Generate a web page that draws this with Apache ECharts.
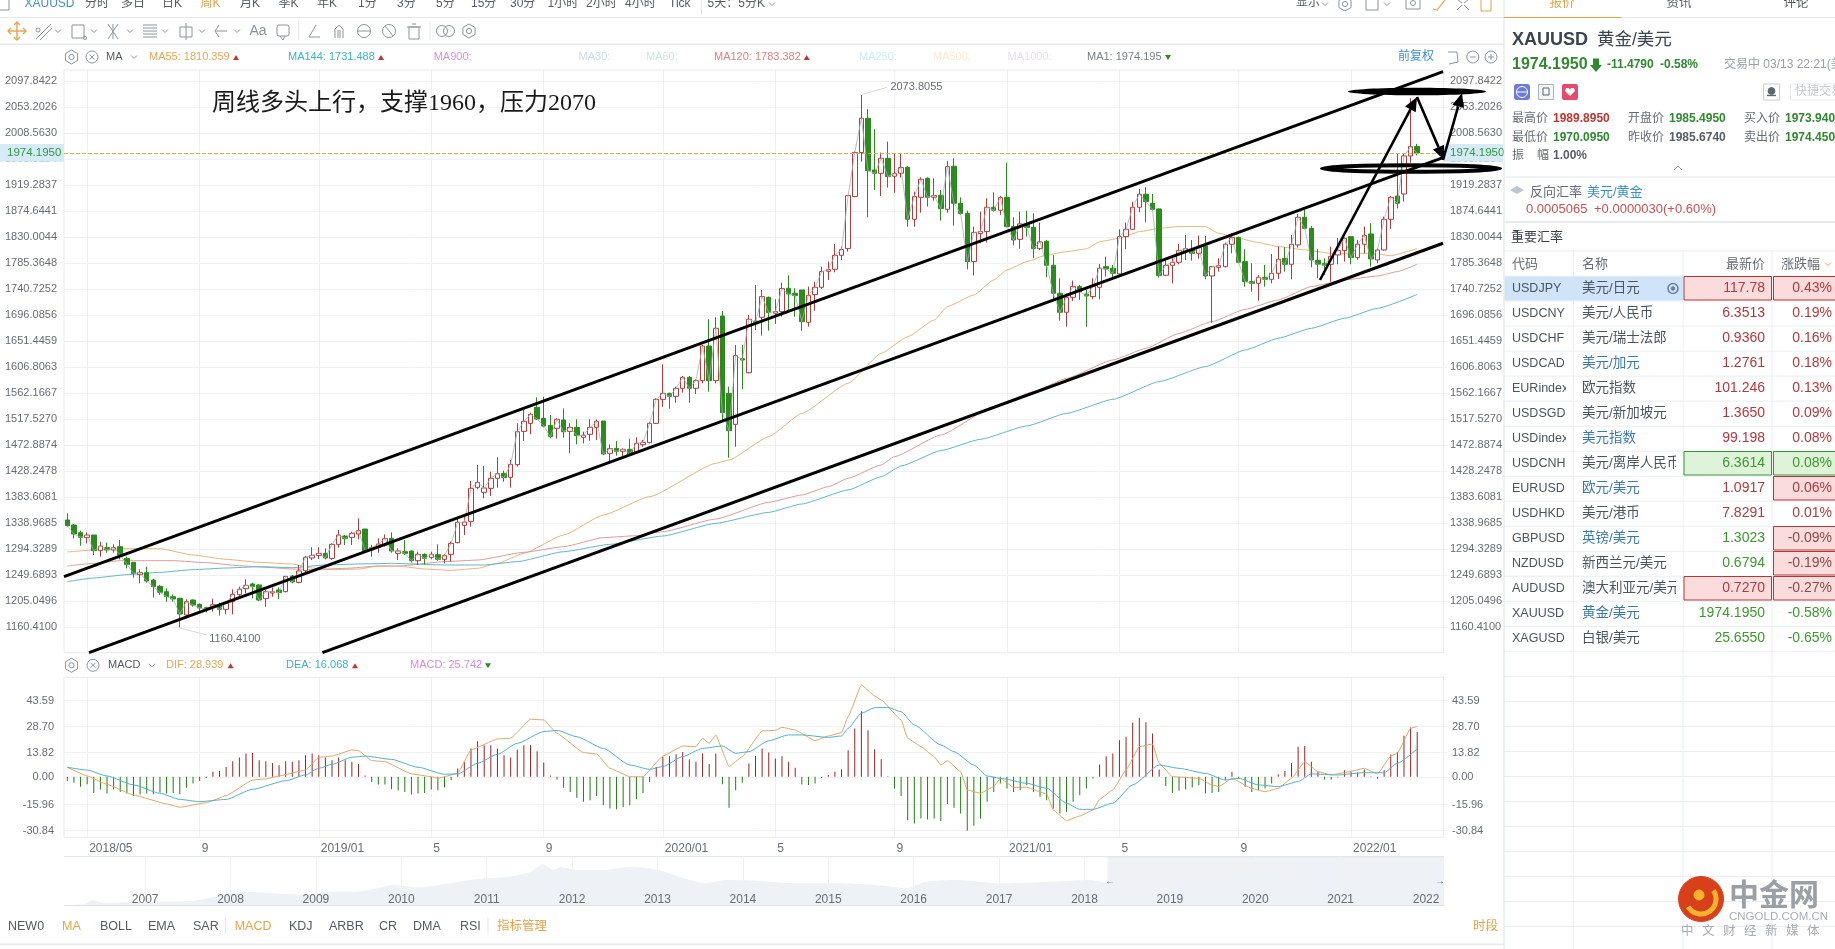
<!DOCTYPE html>
<html>
<head>
<meta charset="utf-8">
<title>XAUUSD 周K</title>
<script src="https://cdn.jsdelivr.net/npm/echarts@6/dist/echarts.min.js"></script>
<style>
html,body{margin:0;padding:0;background:#fff;overflow:hidden}
#chart{width:1835px;height:949px}
</style>
</head>
<body>
<div id="chart"></div>
<script>
// Weekly XAUUSD candles, newest on the right
const opens = [1344.5,1335.9,1322.7,1314.2,1318.7,1291.9,1297.0,1293.0,1298.7,1278.7,
1271.8,1250.7,1254.1,1241.5,1230.7,1221.5,1212.9,1210.1,1181.5,1207.2,
1199.8,1194.0,1194.6,1196.9,1191.2,1204.3,1216.4,1226.6,1234.7,1233.0,
1209.5,1219.2,1224.4,1221.5,1248.4,1237.5,1257.5,1279.3,1283.8,1287.3,
1278.7,1302.7,1317.0,1314.7,1320.5,1329.0,1293.0,1297.6,1301.6,1313.0,
1287.3,1290.1,1291.3,1274.7,1285.6,1280.4,1285.0,1277.0,1285.6,1305.6,
1335.3,1342.2,1400.5,1391.9,1398.8,1416.0,1424.5,1417.7,1439.4,1496.6,
1510.3,1537.8,1519.0,1506.9,1501.8,1516.1,1496.6,1503.5,1486.3,1491.5,
1503.5,1514.3,1458.9,1467.4,1462.3,1465.7,1461.1,1473.7,1477.2,1510.3,
1551.5,1561.8,1556.7,1570.4,1589.3,1570.4,1583.6,1643.0,1583.6,1694.5,
1561.8,1508.6,1621.3,1597.2,1686.0,1692.3,1726.6,1699.2,1702.0,1742.1,
1733.5,1739.2,1683.7,1731.2,1743.8,1771.2,1774.7,1798.7,1810.1,1899.4,
1974.9,2033.8,1945.1,1939.4,1965.1,1934.3,1939.4,1949.7,1860.5,1898.2,
1930.8,1898.2,1901.6,1877.6,1951.4,1887.9,1870.8,1787.8,1835.9,1839.3,
1881.1,1875.9,1898.2,1847.9,1826.1,1852.5,1846.7,1810.1,1822.7,1781.5,
1733.5,1700.9,1726.6,1744.9,1732.3,1727.8,1743.8,1779.2,1776.4,1766.7,
1830.7,1843.3,1881.1,1903.4,1887.9,1878.2,1764.4,1781.5,1786.7,1805.6,
1808.4,1802.1,1814.7,1763.2,1778.1,1779.2,1817.6,1829.0,1787.8,1753.5,
1750.6,1760.9,1757.5,1767.8,1793.5,1783.2,1816.4,1863.9,1845.0,1790.1,
1784.9,1783.2,1799.3,1806.7,1830.7,1794.7,1817.6,1835.3,1790.7,1807.8,
1860.5,1900.5,1903.9,1969.1,1985.495];
const closes = [1334.8,1320.5,1314.7,1318.7,1291.9,1299.9,1293.0,1297.0,1284.4,1268.4,
1253.0,1254.1,1239.8,1230.1,1220.4,1212.9,1208.9,1183.2,1204.3,1198.6,
1193.5,1191.8,1199.2,1191.2,1201.5,1216.9,1225.5,1232.4,1230.1,1207.2,
1221.5,1221.5,1219.8,1247.8,1238.1,1257.0,1280.4,1283.8,1287.3,1279.3,
1302.7,1318.7,1312.4,1321.6,1326.2,1291.9,1297.0,1303.3,1312.4,1291.3,
1291.3,1287.3,1274.7,1285.6,1278.7,1285.6,1277.0,1283.3,1304.4,1340.5,
1341.0,1398.8,1409.1,1399.4,1416.0,1424.0,1417.1,1440.0,1496.0,1513.8,
1525.8,1517.8,1505.8,1487.5,1517.2,1496.0,1503.5,1489.2,1489.8,1503.5,
1513.8,1457.7,1466.9,1462.3,1465.7,1457.7,1476.0,1477.7,1510.3,1551.5,
1561.8,1556.7,1570.4,1589.3,1570.4,1583.6,1643.0,1583.6,1673.4,1528.6,
1497.8,1626.5,1619.0,1688.9,1683.7,1727.8,1700.3,1702.0,1741.5,1732.3,
1729.5,1684.9,1730.0,1743.8,1770.7,1774.1,1798.7,1808.4,1901.1,1974.9,
2033.8,1944.0,1939.4,1965.1,1933.7,1938.8,1949.1,1860.5,1899.4,1929.1,
1898.2,1901.1,1878.8,1950.8,1887.9,1870.2,1787.8,1837.6,1839.3,1881.1,
1875.9,1897.6,1847.9,1825.0,1852.5,1846.2,1810.1,1821.6,1781.5,1733.5,
1700.9,1726.6,1744.9,1736.3,1728.9,1744.9,1776.4,1775.2,1767.8,1830.7,
1843.3,1881.1,1903.4,1890.8,1877.6,1763.8,1781.5,1786.7,1806.7,1810.1,
1802.1,1811.8,1763.2,1779.2,1780.9,1817.6,1829.0,1786.7,1753.5,1750.6,
1760.9,1757.5,1767.8,1791.8,1783.2,1817.6,1863.9,1845.0,1790.7,1783.2,
1781.5,1796.4,1806.7,1827.9,1794.7,1817.6,1833.0,1792.4,1807.8,1860.5,
1898.2,1887.9,1969.1,1985.2,1974.195];
const highs = [1355.9,1337.6,1326.2,1323.3,1318.7,1307.3,1305.6,1302.7,1310.2,1281.6,
1271.8,1259.8,1264.4,1243.8,1233.0,1227.2,1216.9,1211.2,1208.3,1208.3,
1201.5,1195.8,1209.5,1202.6,1204.3,1225.5,1230.1,1242.7,1237.0,1234.1,
1224.4,1228.9,1228.9,1248.4,1250.1,1267.3,1282.7,1297.6,1297.6,1295.9,
1304.4,1327.3,1318.7,1324.5,1347.3,1329.0,1301.6,1313.0,1319.9,1323.3,
1295.9,1310.1,1291.8,1290.1,1287.3,1290.1,1302.7,1286.1,1307.3,1347.3,
1353.0,1411.4,1438.8,1437.1,1427.4,1452.0,1429.1,1447.4,1510.3,1533.2,
1528.6,1555.0,1556.1,1524.6,1518.9,1536.1,1510.3,1517.2,1496.0,1517.2,
1517.2,1514.3,1474.3,1480.0,1467.4,1484.0,1486.3,1481.7,1513.2,1553.2,
1611.6,1563.0,1573.3,1591.6,1591.6,1585.8,1644.8,1688.8,1692.2,1703.1,
1573.3,1644.8,1644.8,1696.3,1747.8,1739.2,1727.8,1723.2,1751.8,1764.4,
1742.1,1739.2,1744.9,1753.5,1779.2,1787.8,1818.1,1813.6,1902.2,1976.6,
2073.8055,2049.2,2014.9,1974.9,1993.7,1973.7,1973.7,1952.0,1907.9,1932.5,
1932.5,1930.8,1910.8,1960.6,1965.1,1898.2,1875.3,1847.9,1873.6,1896.5,
1906.8,1900.5,1957.7,1863.9,1873.6,1875.3,1870.8,1854.7,1825.0,1799.3,
1759.2,1733.5,1755.2,1747.8,1739.2,1759.2,1783.8,1796.4,1782.1,1843.3,
1854.7,1890.8,1912.5,1915.4,1903.9,1879.3,1790.7,1793.5,1818.1,1833.6,
1825.0,1832.4,1831.9,1780.4,1793.5,1820.4,1836.4,1830.7,1809.0,1785.0,
1764.9,1782.1,1801.0,1813.6,1812.4,1833.6,1869.6,1876.5,1849.0,1809.0,
1793.5,1813.6,1827.9,1829.6,1830.7,1825.0,1847.9,1853.6,1810.7,1865.0,
1900.5,1973.7,1973.7,2068.1,1989.895];
const lows = [1333.0,1313.0,1300.4,1304.4,1284.4,1281.6,1288.4,1288.4,1277.0,1261.5,
1245.5,1235.8,1237.0,1211.2,1215.8,1204.3,1204.3,1160.41,1178.6,1195.8,
1188.9,1186.0,1187.2,1180.3,1182.6,1182.6,1212.9,1218.6,1210.1,1205.5,
1195.8,1212.9,1208.9,1220.4,1235.8,1235.8,1254.1,1275.8,1277.6,1277.0,
1275.8,1297.0,1301.6,1301.6,1311.3,1288.4,1281.6,1288.4,1298.7,1288.4,
1275.8,1284.4,1271.2,1267.2,1268.4,1277.0,1274.7,1270.1,1273.0,1304.4,
1318.7,1333.0,1397.1,1381.6,1385.6,1400.0,1410.2,1400.0,1436.0,1480.0,
1491.5,1516.1,1503.5,1484.6,1484.0,1485.7,1458.9,1474.3,1476.0,1480.6,
1481.7,1456.0,1444.6,1454.9,1453.1,1454.9,1457.7,1470.3,1476.0,1509.2,
1538.9,1535.5,1545.8,1563.0,1545.8,1560.7,1579.0,1564.7,1579.0,1513.2,
1451.4,1470.3,1568.7,1596.0,1670.6,1660.8,1669.4,1680.9,1693.4,1704.9,
1693.4,1669.4,1676.3,1703.7,1740.9,1756.4,1769.5,1790.7,1805.0,1898.2,
1959.4,1863.9,1910.8,1900.5,1914.8,1906.2,1932.0,1847.9,1847.9,1871.9,
1882.2,1892.5,1858.2,1871.9,1849.6,1867.9,1774.7,1763.8,1819.3,1820.4,
1873.6,1867.9,1846.7,1815.8,1810.1,1830.7,1793.5,1807.8,1761.0,1722.0,
1686.6,1676.3,1720.3,1722.0,1676.3,1723.2,1723.2,1762.1,1759.2,1764.9,
1809.0,1842.2,1872.5,1855.3,1875.3,1760.4,1763.2,1750.6,1783.2,1790.7,
1789.5,1793.0,1757.5,1683.1,1770.7,1778.1,1802.1,1786.1,1744.9,1736.3,
1720.9,1744.9,1750.6,1758.1,1770.7,1757.5,1811.8,1843.3,1778.1,1759.2,
1764.9,1753.5,1783.2,1787.8,1783.2,1790.7,1802.1,1779.2,1785.0,1806.7,
1843.9,1879.3,1890.8,1957.7,1970.095];

// Moving averages, read at the week numbers listed beside them
const ma55Weeks = [0,4,9,14,19,24,29,34,37,40,44,47,50,54,58,62,65,69,75,81,88,98,100,106,111,118,123,127,131,133,137,140,142,145,148,151,154,156,159,162,165,168,172,174,177,180,183,187,191,194,197,200,204];
const ma55Values = [1289.6,1293,1295.3,1295.3,1284.4,1277,1271.8,1269,1262,1259.3,1260.4,1265.5,1265.5,1260.4,1258.1,1261.5,1270,1287.3,1318.7,1353,1384.5,1441.7,1447.4,1487.5,1527.5,1579,1630.5,1659,1687.7,1710.6,1730.6,1756.4,1773.5,1787.8,1799.3,1805,1809.6,1822,1827.9,1839.3,1845,1847.9,1847.9,1836.4,1827.9,1820.4,1813.6,1808,1802,1802,1802,1798.1,1810.359];
const ma120Weeks = [0,4,8,12,16,21,26,30,34,37,42,47,50,57,62,69,75,81,86,90,98,106,111,115,118,123,125,132,140,146,151,158,163,168,173,178,183,188,193,198,201,204];
const ma120Values = [1265.5,1270,1274.7,1274.7,1274.7,1271.3,1266.1,1263.3,1260.4,1259.3,1261.5,1265.5,1265.5,1273,1275.8,1289,1298.7,1314.2,1317.6,1324.5,1346.2,1374.8,1387.4,1401.7,1416,1438.9,1453.2,1490.3,1539,1564.7,1587.6,1619,1639,1664.8,1684.9,1706,1722,1745,1756.4,1763.2,1770.7,1783.382];
const ma144Weeks = [0,4,9,14,19,24,29,34,39,44,49,57,63,68,75,82,90,98,106,111,118,123,126,132,138,145,151,158,165,172,178,183,188,193,198,204];
const ma144Values = [1238.7,1245,1250.7,1254.7,1259.3,1262.1,1264.4,1262.7,1267.3,1269,1270.1,1267.3,1267.3,1273,1290.1,1302.7,1317,1338.8,1357.6,1372,1396,1418.8,1437.1,1463.5,1483,1505.8,1527.5,1551.5,1581.9,1607.6,1636.2,1656.3,1673.4,1690.6,1707.7,1731.488];

// MACD histogram, one bar per week
const macdBars = [-2.3,-3.4,-5.7,-4.2,-9.2,-7.3,-9.5,-7.3,-8.6,-9.5,
-10.9,-10.1,-9.5,-9.9,-9.0,-9.5,-9.2,-9.9,-6.3,-3.8,
-2.3,-0.6,2.9,3.4,5.7,9.0,11.1,13.4,13.7,9.5,
9.0,8.0,6.7,9.0,8.6,9.5,12.4,13.4,12.4,11.1,
9.5,11.1,9.5,8.6,7.3,0.8,-2.9,-4.4,-4.4,-7.1,
-7.6,-8.6,-10.1,-9.5,-9.2,-7.3,-7.6,-6.1,-1.9,4.8,
8.6,16.2,20.4,18.1,18.1,16.2,12.4,11.1,15.6,18.1,
18.1,14.7,8.2,0.8,-1.5,-6.3,-8.6,-12.0,-14.3,-13.4,
-10.9,-16.2,-18.1,-18.5,-17.2,-16.2,-12.8,-9.2,-2.9,5.7,
11.4,11.8,13.0,14.3,9.9,8.6,13.4,7.3,13.4,-4.2,
-17.7,-7.6,-3.4,7.6,12.0,16.2,13.9,10.5,11.8,8.6,
5.2,-4.4,-4.6,-3.8,-0.6,1.0,2.9,4.2,15.3,27.7,
37.6,26.7,15.8,10.1,0.4,-6.7,-10.9,-24.8,-26.7,-23.9,
-24.4,-23.9,-25.2,-15.6,-17.7,-21.0,-30.9,-28.0,-23.9,-14.3,
-8.6,-3.8,-6.7,-8.6,-7.6,-4.8,-8.6,-11.4,-13.4,-18.1,
-21.0,-20.0,-14.3,-10.5,-6.7,-1.0,7.1,11.8,13.4,21.0,
22.9,31.1,33.8,31.3,24.8,4.2,-5.3,-9.2,-8.0,-7.3,
-6.1,-4.8,-9.5,-9.2,-8.6,-1.9,2.9,-1.0,-5.7,-8.6,
-7.6,-6.7,-3.8,1.5,3.4,8.0,17.2,17.6,8.6,2.9,
-1.5,-1.5,-0.4,3.8,2.9,2.5,4.2,0.4,-1.1,3.8,
12.8,14.3,23.5,28.2,25.742];

const difWeeks = [0,3,6,10,15,17,21,24,28,30,32,36,38,40,43,44,46,48,52,55,56,59,61,65,67,70,72,74,78,80,82,85,87,90,93,95,96,97,98,100,102,105,107,108,110,113,115,117,118,120,122,123,126,127,129,131,132,133,135,136,138,140,141,143,145,148,149,151,153,155,156,158,160,162,164,165,167,171,173,174,176,179,181,183,185,187,189,191,193,196,198,200,201,203,204];
const difValues = [5.5,0.5,-4.3,-10.4,-15.5,-17.4,-14.8,-10.8,-1.8,-1.2,0.5,3.9,11.2,11.9,15.4,15.0,9.3,8.7,1.7,0.1,-0.8,2.0,15.4,21.7,22.1,33.0,32.6,24.9,13.9,13.1,4.9,0.1,0.1,11.9,17.6,17.3,22.1,19.2,24.0,5.9,11.6,26.3,26.6,28.4,26.8,20.7,23.4,25.3,34.5,52.6,46.3,44.0,32.6,22.1,17.3,11.6,6.8,9.3,3.0,-7.5,-9.4,-5.6,-0.8,-6.0,-6.0,-9.8,-19.0,-25.1,-22.4,-19.0,-12.8,-7.5,3.9,17.3,18.8,7.8,0.1,-0.8,-4.6,-5.6,-0.8,-6.6,-8.5,-6.6,-0.8,8.7,3.0,1.1,2.4,4.9,1.7,11.9,13.5,27.8,28.939];
const deaWeeks = [0,3,6,10,14,17,20,24,28,33,36,38,40,43,45,49,53,57,59,62,65,68,72,74,77,81,85,88,90,93,96,99,101,103,106,109,111,115,117,118,120,122,124,126,128,132,134,137,139,141,145,148,151,153,155,158,161,165,168,172,175,177,180,183,186,188,192,196,199,201,204];
const deaValues = [5.5,3.9,0.5,-4.6,-9.4,-12.9,-14.2,-12.9,-7.1,-2.2,1.1,4.9,7.2,11.2,11.9,10.0,5.5,1.5,1.7,7.8,12.9,19.2,25.9,26.6,23.0,16.3,6.8,4.3,5.9,11.6,16.3,17.7,13.5,14.4,20.7,24.0,24.0,22.6,23.4,27.8,36.4,39.6,39.8,37.3,29.7,18.3,14.4,6.8,0.5,-0.8,-3.7,-6.5,-15.1,-18.6,-18.6,-15.1,-4.6,6.8,4.9,2.0,-1.8,-0.8,-4.6,-5.6,-2.7,1.7,1.1,2.4,2.4,7.8,16.068];

// Long-range overview strip behind the period selector
const overviewYears = [2006.07,2006.29,2006.38,2006.5,2007.09,2007.57,2007.81,2008.17,2008.53,2008.89,2009.13,2009.48,2009.72,2009.9,2010.2,2010.68,2010.98,2011.27,2011.52,2011.66,2011.78,2011.87,2012.05,2012.35,2012.71,2013.01,2013.31,2013.55,2013.79,2014.14,2014.67,2015.13,2015.67,2015.91,2016.14,2016.52,2016.99,2017.61,2018.07,2018.3,2018.69,2019.31,2019.69,2020.08,2020.38,2020.58,2020.85,2021.16,2021.47,2022.01,2022.19];
const overviewValues = [326,365,520,416,455,494,649,843,778,714,843,843,972,1102,1011,1231,1360,1425,1619,1916,1684,1787,1684,1684,1813,1684,1360,1166,1296,1270,1166,1166,1063,972,1231,1296,1166,1231,1296,1166,1166,1296,1490,1619,1813,2097,2007,1813,1942,1878,2007];
const overviewTicks = [2007,2008,2009,2010,2011,2012,2013,2014,2015,2016,2017,2018,2019,2020,2021,2022];

// Axis ticks
const priceTicks = [1160.41,1205.0496,1249.6893,1294.3289,1338.9685,1383.6081,1428.2478,1472.8874,1517.527,1562.1667,1606.8063,1651.4459,1696.0856,1740.7252,1785.3648,1830.0044,1874.6441,1919.2837,1963.9234,2008.563,2053.2026,2097.8422];
const macdTicks = [-30.84,-15.96,0,13.82,28.70,43.59];
const tickWeeks = [3,20,38,55,72,90,107,125,142,159,177,194];
const tickTexts = ['2018/05','9','2019/01','5','9','2020/01','5','9','2021/01','5','9','2022/01'];

// Hand-drawn channel: [week, price] end points
const channelTop = [[-0.5,1247.2],[207.9,2113.8]];
const channelMid = [[3.28,1116.8],[208.2,1967.4]];
const channelLow = [[38.55,1116.8],[207.9,1819.3]];

// One category per week, with a few blank slots to the right of the last candle
const weeks = [];
for (let i = 0; i < 209; i++) {
  weeks.push(i < opens.length ? new Date(Date.UTC(2018, 3, 16 + i * 7)).toISOString().slice(0, 10) : '');
}
const zip = (a, b) => a.map((v, i) => [v, b[i]]);

const SANS = '"Liberation Sans","Noto Sans CJK SC",sans-serif';
const RED = '#b13c3c', GREEN = '#2a8c1c', ORANGE = '#e8a24a', GRID = '#eff1f3', AXIS_TEXT = '#666c75';
const isTick = i => tickWeeks.includes(i);

// ---- graphic helpers for the surrounding terminal interface ----
const els = [];
const Z = 60;
function txt(x, y, text, fill, size, o = {}) {
  els.push({type: 'text', x, y, z: o.z || Z, silent: true, style: {
    text, fill, font: `${o.bold ? 'bold ' : ''}${size}px ${o.family || SANS}`,
    align: o.align || 'left', verticalAlign: 'middle'}});
}
function ln(x1, y1, x2, y2, stroke, w = 1, z = Z) {
  els.push({type: 'line', z, silent: true, shape: {x1, y1, x2, y2}, style: {stroke, lineWidth: w}});
}
function box(x, y, w, h, fill, stroke, z = Z, r = 0) {
  els.push({type: 'rect', z, silent: true, shape: {x, y, width: w, height: h, r}, style: {fill: fill || 'none', stroke: stroke || 'none', lineWidth: 1}});
}
function ring(cx, cy, r, stroke, fill, w = 1, z = Z) {
  els.push({type: 'circle', z, silent: true, shape: {cx, cy, r}, style: {stroke, fill: fill || 'none', lineWidth: w}});
}
function poly(points, stroke, fill, w = 1, z = Z) {
  els.push({type: fill ? 'polygon' : 'polyline', z, silent: true, shape: {points}, style: {stroke: stroke || 'none', fill: fill || 'none', lineWidth: w}});
}
const chevron = (x, y, c = '#8a94a0', s = 3) => poly([[x - s, y - s / 2], [x, y + s / 2], [x + s, y - s / 2]], c, null, 1);
function gear(x, y, c = '#8a94a0') {
  const pts = [];
  for (let a = 0; a < 6; a++) pts.push([x + 7 * Math.sin(a * Math.PI / 3), y + 7 * Math.cos(a * Math.PI / 3)]);
  poly(pts, c, 'rgba(255,255,255,0)');
  ring(x, y, 2.6, c);
}
function closeCircle(x, y) {
  ring(x, y, 6, '#8a94a0');
  ln(x - 2.5, y - 2.5, x + 2.5, y + 2.5, '#8a94a0');
  ln(x - 2.5, y + 2.5, x + 2.5, y - 2.5, '#8a94a0');
}
const upTri = (x, y, c = '#c8332d') => poly([[x - 3, y + 3], [x + 3, y + 3], [x, y - 2]], null, c);
const downTri = (x, y, c = GREEN) => poly([[x - 3, y - 2], [x + 3, y - 2], [x, y + 3]], null, c);

// Top period tabs
box(-1, -2, 10, 12, null, '#8a94a0');
txt(24.5, 4, 'XAUUSD', '#3b8fd0', 12);
[[85,'分时'],[121,'多日'],[162,'日K'],[240,'月K'],[278.6,'季K'],[317,'年K'],[358,'1分'],[397,'3分'],[436,'5分'],[471,'15分'],[510,'30分'],[547.5,'1小时'],[586,'2小时'],[625,'4小时'],[669,'Tick'],[707.6,'5天：5分K']]
  .forEach(([x, t]) => txt(x, 4, t, '#555b63', 12));
txt(200.5, 4, '周K', ORANGE, 12);
chevron(772, 4); ln(701.5, 0, 701.5, 14, '#e4e6ea');
txt(1296, 3, '显示', '#555b63', 12); chevron(1325, 4);
gear(1345, 4); box(1366, -4, 12, 14, null, '#8a94a0'); chevron(1387, 4);
box(1406, -3, 14, 12, null, '#8a94a0'); ring(1413, 3, 2.5, '#8a94a0');
poly([[1433, 9], [1437, 10], [1445, 0], [1441, -3]], ORANGE, null, 1.2);
poly([[1457, 0], [1457, -3]], '#8a94a0', null); ln(1457, 10, 1462, 5, '#8a94a0'); ln(1469, 10, 1464, 5, '#8a94a0'); ln(1457, -1, 1462, 3, '#8a94a0'); ln(1469, -1, 1464, 3, '#8a94a0');
box(1481, -3, 10, 14, null, ORANGE);
ln(0, 17.5, 1504, 17.5, '#e6e8eb');

// Drawing toolbar
const G = '#8a94a0';
ln(17, 22, 17, 40, ORANGE, 1.4); ln(8, 31, 26, 31, ORANGE, 1.4);
poly([[14,25],[17,22],[20,25]], ORANGE, null, 1.4); poly([[14,37],[17,40],[20,37]], ORANGE, null, 1.4);
poly([[11,28],[8,31],[11,34]], ORANGE, null, 1.4); poly([[23,28],[26,31],[23,34]], ORANGE, null, 1.4);
ln(36, 39, 51, 24, G); ln(40, 40, 52, 28, G); ring(38, 30, 2, G); chevron(58, 31);
box(72, 25, 12, 13, null, G); ring(85, 38, 1.6, G); chevron(94, 31);
ln(108, 24, 118, 39, G); ln(118, 24, 108, 39, G); ln(113, 24, 113, 39, G); chevron(130, 31);
[25,28,31,34,37].forEach(y => ln(143, y, 157, y, G)); chevron(165, 31);
box(180, 27, 12, 10, null, G); ln(186, 23, 186, 40, G); chevron(202, 31);
poly([[219, 25], [215, 31], [219, 37]], G, null); ln(215, 31, 227, 31, G); chevron(237, 31);
txt(258, 31, 'Aa', G, 14, {align: 'center'});
box(277, 25, 12, 11, null, G, Z, 2); poly([[280, 36], [283, 40], [285, 36]], G, null);
ln(298.5, 22, 298.5, 40, '#e4e6ea');
poly([[316, 25], [309, 37], [320, 37]], G, null);
poly([[335, 38], [335, 29], [339, 25], [343, 29], [343, 38]], G, null); ln(338, 38, 338, 30, G); ln(340, 38, 340, 30, G);
ring(364, 31, 6.5, G); ln(358, 31, 370, 31, G);
ring(389, 31, 6.5, G); ln(385, 26, 393, 36, G);
box(409, 27, 10, 12, null, G); ln(407, 27, 421, 27, G); ln(412, 24, 416, 24, G);
ln(430, 22, 430, 40, '#e4e6ea');
ring(442, 31, 5.5, G); ring(449, 31, 5.5, G); gear(469, 31);
ln(0, 44.3, 1504, 44.3, '#e6e8eb', 1.5);

// Indicator legend above the candles
const F = 11;
gear(71.5, 57); closeCircle(92, 57);
txt(106, 57, 'MA', '#555b63', F); chevron(134, 57);
txt(149, 57, 'MA55: 1810.359', '#e8a45a', F); upTri(236, 57);
txt(288, 57, 'MA144: 1731.488', '#3eb0c8', F); upTri(381, 57);
txt(433.7, 57, 'MA900:', '#dd8fdd', F);
txt(578.6, 57, 'MA30:', '#cadcee', F);
txt(646, 57, 'MA60:', '#c6ebdf', F);
txt(714, 57, 'MA120: 1783.382', '#e08080', F); upTri(806.7, 57);
txt(859, 57, 'MA250:', '#c9ecf9', F);
txt(933, 57, 'MA500:', '#fbeacd', F);
txt(1007.6, 57, 'MA1000:', '#e6def5', F);
txt(1087, 57, 'MA1: 1974.195', '#7a8088', F); downTri(1168, 57);
txt(1398, 57, '前复权', '#3b8fd0', 12);
poly([[1448, 52], [1457, 52], [1458, 62], [1449, 64]], G, null);
ring(1472.8, 57, 6, G); ln(1469.8, 57, 1475.8, 57, G);
ring(1491, 57, 6, G); ln(1488, 57, 1494, 57, G); ln(1491, 54, 1491, 60, G);

// Plot frames
ln(64, 70, 1444, 70, '#e9ebee', 1, 1); ln(64, 652.7, 1444, 652.7, '#e9ebee', 1, 1);
ln(64, 70, 64, 652.7, '#e9ebee', 1, 1); ln(1443.7, 70, 1443.7, 652.7, '#e9ebee', 1, 1);
ln(64, 677.3, 1444, 677.3, '#e9ebee', 1, 1); ln(64, 837.3, 1444, 837.3, '#e9ebee', 1, 1);
ln(64, 677.3, 64, 837.3, '#e9ebee', 1, 1); ln(1443.7, 677.3, 1443.7, 837.3, '#e9ebee', 1, 1);
ln(64, 856.7, 1444, 856.7, '#dfe2e6', 1, 1);

// Note on the chart
txt(212, 104, '周线多头上行，支撑1960，压力2070', '#1a1a1a', 24, {family: '"Liberation Serif","Noto Sans CJK SC",serif'});

// Leader lines for the extreme labels
ln(862.5, 94.3, 887, 87.3, '#d5d8dc');
ln(180, 628, 207, 635, '#d5d8dc');

// Last-price tags on both price scales
box(0, 144, 64, 17.7, '#d6eaf8', null, 40);
box(1444, 144, 59, 17.7, '#d6eaf8', null, 40);
txt(7, 153, '1974.1950', '#2f9a3a', 11.5, {z: 41});
txt(1450, 153, '1974.1950', '#2f9a3a', 11.5, {z: 41});

// Hand-drawn markings
els.push({type: 'ellipse', z: 45, silent: true, shape: {cx: 1417, cy: 91.5, rx: 69, ry: 3.8}, style: {fill: '#000'}});
els.push({type: 'ellipse', z: 45, silent: true, shape: {cx: 1411, cy: 168.5, rx: 89, ry: 3.2}, style: {fill: 'none', stroke: '#000', lineWidth: 4}});
function arrow(x1, y1, x2, y2) {
  const a = Math.atan2(y2 - y1, x2 - x1), len = 14, wide = 6;
  const bx = x2 - len * Math.cos(a), by = y2 - len * Math.sin(a);
  ln(x1, y1, bx, by, '#000', 2.6, 45);
  poly([[x2, y2], [bx + wide * Math.sin(a), by - wide * Math.cos(a)], [bx - wide * Math.sin(a), by + wide * Math.cos(a)]], null, '#000', 1, 45);
}
arrow(1320, 280, 1417, 97);
arrow(1417, 97, 1444, 160);
arrow(1443, 160, 1462, 93);

// MACD legend
gear(71.5, 665.3); closeCircle(93, 665.3);
txt(108, 665.3, 'MACD', '#555b63', F); chevron(152, 665.3);
txt(166, 665.3, 'DIF: 28.939', '#e8a45a', F); upTri(230.6, 665.3);
txt(286, 665.3, 'DEA: 16.068', '#3eb0c8', F); upTri(355, 665.3);
txt(410, 665.3, 'MACD: 25.742', '#dd88dd', F); downTri(488, 665.3);

// Overview strip selection handles
txt(1110, 881, '←', '#5a6b80', 10, {align: 'center'});
txt(1440, 881, '→', '#5a6b80', 10, {align: 'center'});

// Bottom indicator tabs
const TAB_Y = 926.5;
[[8,'NEW0'],[100,'BOLL'],[148,'EMA'],[193,'SAR'],[289,'KDJ'],[329,'ARBR'],[379,'CR'],[413,'DMA'],[460,'RSI']]
  .forEach(([x, t]) => txt(x, TAB_Y, t, '#555b63', 12.5));
[[62,'MA'],[234.7,'MACD'],[497,'指标管理'],[1473,'时段']]
  .forEach(([x, t]) => txt(x, TAB_Y, t, ORANGE, 12.5));
ln(225.5, 918, 225.5, 934, '#e4e6ea'); ln(488, 918, 488, 934, '#e4e6ea');
ln(0, 944.3, 1504, 944.3, '#e6e8eb', 1.5);

// Quote panel
ln(1504, 0, 1504, 949, '#dfe5ea');
txt(1562, 4, '报价', ORANGE, 12.5, {align: 'center'});
txt(1679, 4, '资讯', '#555b63', 12.5, {align: 'center'});
txt(1796, 4, '评论', '#555b63', 12.5, {align: 'center'});
ln(1504, 17.5, 1835, 17.5, '#e6e8eb'); ln(1504, 17.5, 1621, 17.5, ORANGE, 1.2);
txt(1512, 40, 'XAUUSD', '#3a4550', 18, {bold: true});
txt(1597, 40, '黄金/美元', '#3a4550', 17.5);
txt(1512, 65, '1974.1950', '#2f8a2f', 16, {bold: true});
poly([[1593, 58.5], [1599, 58.5], [1599, 65], [1602, 65], [1596, 72], [1590, 65], [1593, 65]], null, '#2f8a2f');
txt(1607, 65, '-11.4790', '#2f8a2f', 12, {bold: true});
txt(1660, 65, '-0.58%', '#2f8a2f', 12, {bold: true});
txt(1724, 65, '交易中 03/13 22:21(美', '#9aa1a9', 12);
box(1514, 84, 16, 16, '#6a7bd8', null, Z, 3); ring(1522, 92, 5.5, '#fff'); ln(1516.5, 92, 1527.5, 92, '#fff');
box(1538.5, 84.5, 15, 15, '#f4f6f8', '#aab1b8'); box(1543, 88, 6, 7, null, '#5c6773');
box(1562, 84, 16, 16, '#e64a6a', null, Z, 2);
poly([[1570, 96], [1565, 91], [1566, 88], [1569, 88], [1570, 90], [1571, 88], [1574, 88], [1575, 91]], null, '#fff');
box(1763.5, 84, 16, 16, '#fff', '#c8cdd3'); ring(1771.5, 91, 3.4, '#5c6773', '#5c6773'); ln(1767, 95.5, 1776, 95.5, '#5c6773', 1.4);
box(1790.5, 84, 60, 16, '#fff', '#e5e8ec');
txt(1795, 92, '快捷交易', '#c6cbd1', 12);
const stat = (x, vx, y, label, value, color) => { txt(x, y, label, '#666c75', 12); txt(vx, y, value, color, 12, {bold: true}); };
const STAT_RED = '#c03434', STAT_GREEN = '#2f8a2f', STAT_GREY = '#565d66';
stat(1512, 1553, 119, '最高价', '1989.8950', STAT_RED);
stat(1628, 1669, 119, '开盘价', '1985.4950', STAT_GREEN);
stat(1744, 1785, 119, '买入价', '1973.9400', STAT_GREEN);
stat(1512, 1553, 138, '最低价', '1970.0950', STAT_GREEN);
stat(1628, 1669, 138, '昨收价', '1985.6740', STAT_GREY);
stat(1744, 1785, 138, '卖出价', '1974.4500', STAT_GREEN);
txt(1512, 156, '振', '#666c75', 12); txt(1537, 156, '幅', '#666c75', 12); txt(1553, 156, '1.00%', STAT_GREY, 12, {bold: true});
poly([[1674, 170], [1678, 166], [1682, 170]], '#8a94a0', null);
ln(1504, 177, 1835, 177, '#e6e8eb');
poly([[1517, 186], [1524, 190], [1517, 194], [1510, 190]], null, '#bcc6d0');
txt(1530, 192, '反向汇率', '#666c75', 13);
txt(1587, 192, '美元/黄金', '#3b8fc8', 13);
txt(1526, 209, '0.0005065', '#c85050', 13);
txt(1594, 209, '+0.0000030(+0.60%)', '#c85050', 13);
box(1504, 221, 331, 2, '#e8ebee');
txt(1511, 237, '重要汇率', '#3a4048', 13);

// Quote table
const rowCodes = ['USDJPY','USDCNY','USDCHF','USDCAD','EURindex','USDSGD','USDindex','USDCNH','EURUSD','USDHKD','GBPUSD','NZDUSD','AUDUSD','XAUUSD','XAGUSD'];
const rowNames = ['美元/日元','美元/人民币','美元/瑞士法郎','美元/加元','欧元指数','美元/新加坡元','美元指数','美元/离岸人民币','欧元/美元','美元/港币','英镑/美元','新西兰元/美元','澳大利亚元/美元','黄金/美元','白银/美元'];
const rowPrices = ['117.78','6.3513','0.9360','1.2761','101.246','1.3650','99.198','6.3614','1.0917','7.8291','1.3023','0.6794','0.7270','1974.1950','25.6550'];
const rowChanges = ['0.43%','0.19%','0.16%','0.18%','0.13%','0.09%','0.08%','0.08%','0.06%','0.01%','-0.09%','-0.19%','-0.27%','-0.58%','-0.65%'];
const blueNames = [3, 6, 8, 10, 13];
const priceBoxes = {0: 'r', 7: 'g', 12: 'r'};
const changeBoxes = {0: 'r', 7: 'g', 8: 'r', 10: 'r', 11: 'r', 12: 'r'};
const TBL = '#e9eef3';
for (let y = 250; y <= 949; y += 25.02) ln(1504, y + 1, 1835, y + 1, TBL, 1, 10);
[1573.5, 1683, 1772].forEach(x => ln(x, 250, x, 949, TBL, 1, 10));
txt(1512, 264, '代码', '#666c75', 13);
txt(1582, 264, '名称', '#666c75', 13);
txt(1765, 264, '最新价', '#666c75', 13, {align: 'right'});
txt(1820, 264, '涨跌幅', '#666c75', 13, {align: 'right'});
chevron(1828, 264, ORANGE);
box(1504.5, 276.5, 178.5, 24, '#cfe4f8', null, 11);
ring(1673, 288.5, 5, '#6d8199', 'none', 1.6, 12); ring(1673, 288.5, 1.8, '#6d8199', '#6d8199', 1, 12);
const cell = (x, y, w, kind) => box(x, y, w, 23.5, kind === 'r' ? '#fbdcdc' : '#dff3d9', kind === 'r' ? '#b03838' : '#3a913a', 12);
rowCodes.forEach((code, i) => {
  const y = 288.5 + i * 25;
  const priceColor = i === 7 ? '#3a9a2c' : i === 12 ? '#b5383c' : (i < 10 ? '#b5383c' : '#3a9a2c');
  const changeColor = i === 7 ? '#3a9a2c' : i < 10 ? '#b5383c' : i < 13 ? '#8c4a4a' : '#3a9a2c';
  if (priceBoxes[i]) cell(1684, y - 12, 87.5, priceBoxes[i]);
  if (changeBoxes[i]) cell(1773.5, y - 12, 63, changeBoxes[i]);
  txt(1512, y, code, '#4a5560', 12.5, {z: 13});
  txt(1582, y, rowNames[i], blueNames.includes(i) ? '#3b78b0' : '#4a5560', 13.5, {z: 13});
  txt(1765, y, rowPrices[i], priceColor, 14, {align: 'right', z: 13});
  txt(1832, y, rowChanges[i], changeColor, 14, {align: 'right', z: 13});
  if (i > 0) {
    box(1566, y - 11, 7, 22, '#fff', null, 14);
    box(1676, y - 11, 6.5, 22, '#fff', null, 14);
  }
});

// Publisher mark in the lower right corner
ring(1701, 899, 22.5, '#d8401c', '#d8401c', 1, 70);
els.push({type: 'arc', z: 71, silent: true, shape: {cx: 1701, cy: 899, r: 15, startAngle: -0.6, endAngle: 2.6}, style: {stroke: '#f6b42a', lineWidth: 5, fill: 'none'}});
ring(1699, 895, 5, '#f6b42a', '#f6b42a', 1, 71);
txt(1729, 897, '中金网', '#9aa0a6', 30, {bold: true, z: 70});
txt(1729, 917, 'CNGOLD.COM.CN', '#a8adb3', 11.5, {z: 70});
'中文财经新媒体'.split('').forEach((c, i) => txt(1681 + i * 21, 932, c, '#a8adb3', 12.5, {z: 70}));

// ---- chart ----
const axisLabelStyle = {color: AXIS_TEXT, fontFamily: SANS, fontSize: 11};
const weekAxis = (gridIndex, withLabels) => ({
  type: 'category', gridIndex, data: weeks, boundaryGap: true,
  axisLine: {show: false}, axisTick: {show: false},
  splitLine: {show: true, alignWithLabel: true, interval: i => isTick(i), lineStyle: {color: GRID}},
  axisLabel: withLabels ? {
    show: true, ...axisLabelStyle, fontSize: 12, align: 'left', margin: 5, padding: [0, 0, 0, 2],
    interval: i => isTick(i),
    formatter: (v, i) => tickTexts[tickWeeks.indexOf(i)]
  } : {show: false}
});
const priceAxis = (position, margin, splits) => ({
  type: 'value', gridIndex: 0, position, min: 1116.8, max: 2116.6, scale: true,
  axisLine: {show: false},
  axisTick: {show: false, customValues: priceTicks},
  splitLine: {show: splits, lineStyle: {color: GRID}},
  axisLabel: {...axisLabelStyle, margin, padding: [2, 0, 0, 0], customValues: priceTicks, formatter: v => v.toFixed(4)}
});
const macdAxis = (position, margin, splits) => ({
  type: 'value', gridIndex: 1, position, min: -34.6, max: 57,
  axisLine: {show: false},
  axisTick: {show: false, customValues: macdTicks},
  splitLine: {show: splits, lineStyle: {color: GRID}},
  axisLabel: {...axisLabelStyle, margin, padding: [2, 0, 0, 0], customValues: macdTicks, formatter: v => v.toFixed(2)}
});
const plainLine = (name, xAxisIndex, yAxisIndex, data, color, width, smooth = 0.15, z = 3) => ({
  name, type: 'line', xAxisIndex, yAxisIndex, data, showSymbol: false, silent: true, smooth, smoothMonotone: 'x', z,
  lineStyle: {color, width}
});
const channel = (name, pts) => plainLine(name, 2, 0, pts, '#000', 3, false, 8);

const option = {
  animation: false,
  backgroundColor: '#fff',
  textStyle: {fontFamily: SANS},
  grid: [
    {left: 64, top: 70, width: 1383, height: 582.7},
    {left: 64, top: 677.3, width: 1383, height: 160},
    {left: 64, top: 856.7, width: 1380, height: 49}
  ],
  xAxis: [
    weekAxis(0, false),
    weekAxis(1, true),
    {type: 'value', gridIndex: 0, min: -0.5, max: 208.5, show: false, splitLine: {show: false}},
    {type: 'value', gridIndex: 2, min: 2006.05, max: 2022.21, z: 12,
      axisLine: {show: true, lineStyle: {color: '#dfe2e6'}},
      axisTick: {show: false, customValues: overviewTicks},
      splitLine: {show: true, lineStyle: {color: GRID}},
      axisLabel: {...axisLabelStyle, fontSize: 12, inside: true, margin: 0, customValues: overviewTicks, formatter: v => String(v)}}
  ],
  yAxis: [
    priceAxis('left', 7, true),
    priceAxis('right', 3, false),
    macdAxis('left', 10, true),
    macdAxis('right', 5, false),
    {type: 'value', gridIndex: 2, min: 300, max: 2200, show: false, splitLine: {show: false}}
  ],
  series: [
    {
      name: '周K', type: 'candlestick', xAxisIndex: 0, yAxisIndex: 0, barWidth: 5, z: 4,
      data: opens.map((o, i) => [o, closes[i], lows[i], highs[i]]),
      itemStyle: {color: '#fff', color0: GREEN, borderColor: RED, borderColor0: GREEN, borderWidth: 1},
      markLine: {
        silent: true, symbol: 'none', label: {show: false},
        lineStyle: {color: '#d3b054', type: 'dashed', width: 1},
        data: [{yAxis: closes[closes.length - 1]}]
      },
      markPoint: {
        silent: true, symbol: 'circle', symbolSize: 0,
        label: {color: AXIS_TEXT, fontSize: 11, fontFamily: SANS, formatter: p => p.value.toFixed(4)},
        data: [
          {coord: [120, highs[120]], value: highs[120], label: {offset: [55, -8]}},
          {coord: [17, lows[17]], value: lows[17], label: {offset: [55, 12]}}
        ]
      }
    },
    plainLine('MA1', 0, 0, closes, '#a9adb3', 0.8, false, 5),
    plainLine('MA55', 0, 0, zip(ma55Weeks, ma55Values), '#e9b47a', 1),
    plainLine('MA120', 0, 0, zip(ma120Weeks, ma120Values), '#dd9c9c', 1),
    plainLine('MA144', 0, 0, zip(ma144Weeks, ma144Values), '#5db8cc', 1),
    channel('通道上轨', channelTop),
    channel('通道中轨', channelMid),
    channel('通道下轨', channelLow),
    {
      name: 'MACD', type: 'bar', xAxisIndex: 1, yAxisIndex: 2, barWidth: 1, silent: true, z: 2,
      data: macdBars,
      itemStyle: {color: p => p.value >= 0 ? '#9c2222' : '#1f7f10'}
    },
    plainLine('DIF', 1, 2, zip(difWeeks, difValues), '#e3a566', 1, 0.1),
    plainLine('DEA', 1, 2, zip(deaWeeks, deaValues), '#4fb3c8', 1, 0.2),
    {
      name: '区间', type: 'line', xAxisIndex: 3, yAxisIndex: 4, showSymbol: false, silent: true, smooth: 0.2, z: 1,
      data: zip(overviewYears, overviewValues),
      lineStyle: {width: 0},
      areaStyle: {color: '#eef1f5', opacity: 1},
      markArea: {
        silent: true,
        itemStyle: {color: 'rgba(205,213,224,0.32)'},
        data: [[{xAxis: 2018.27}, {xAxis: 2022.21}]]
      }
    }
  ],
  graphic: {elements: els}
};

const chart = echarts.init(document.getElementById('chart'), null, {renderer: 'canvas', width: 1835, height: 949});
chart.setOption(option);
</script>
</body>
</html>
